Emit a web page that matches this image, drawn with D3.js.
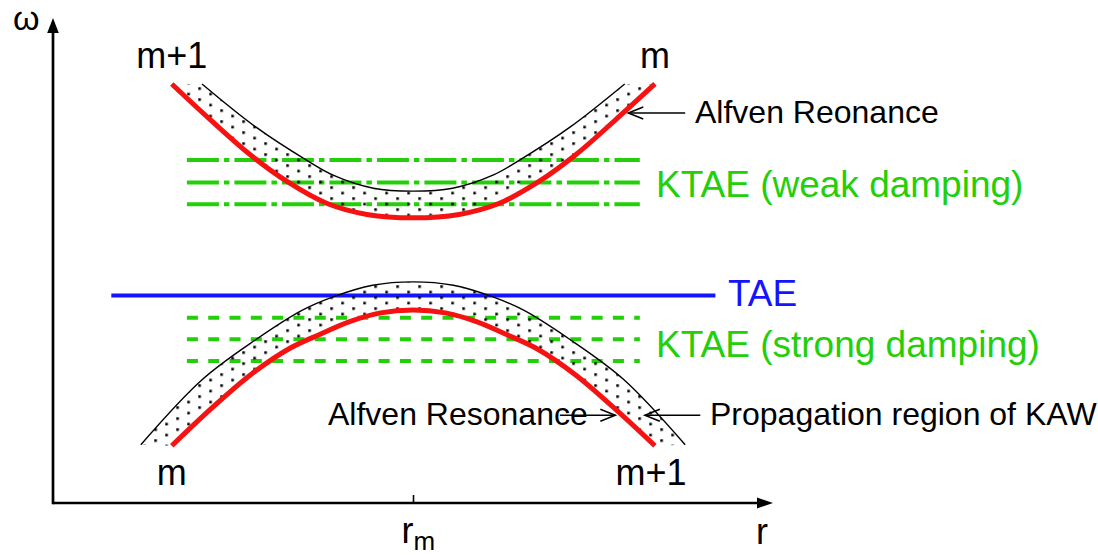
<!DOCTYPE html>
<html>
<head>
<meta charset="utf-8">
<script src="https://cdn.jsdelivr.net/npm/d3@7"></script>
<style>
  html, body { margin: 0; padding: 0; background: #fff; }
  svg { display: block; font-family: "Liberation Sans", Arial, Helvetica, sans-serif; }
</style>
</head>
<body>
<svg id="chart" width="1098" height="556"></svg>
<script>
// Upper continuum branch: Alfven resonance (red) and outer edge of the KAW region (black)
const upperResR  = [-3.35, -2.82, -2.26, -1.75, -1.20, -0.64, 0, 0.64, 1.20, 1.75, 2.26, 2.82, 3.36];
const upperResW  = [ 8.64,  7.91,  7.18,  6.63,  6.18,  5.95, 5.88, 5.95, 6.18, 6.63, 7.18, 7.91, 8.64];
const upperEdgeR = [-2.93, -2.19, -1.48, -1.11, -0.55, 0, 0.55, 1.11, 1.48, 2.19, 2.94];
const upperEdgeW = [ 8.64,  7.76,  7.07,  6.76,  6.49, 6.43, 6.49, 6.76, 7.07, 7.76, 8.64];

// Lower continuum branch
const lowerResR  = [-3.35, -2.80, -2.25, -1.71, -1.29, -0.88, -0.45, 0, 0.45, 0.88, 1.29, 1.71, 2.25, 2.80, 3.36];
const lowerResW  = [ 1.18,  1.95,  2.65,  3.19,  3.48,  3.74,  3.92, 3.98, 3.92, 3.74, 3.48, 3.19, 2.65, 1.95, 1.18];
const lowerEdgeR = [-3.78, -2.93, -2.19, -1.53, -1.11, -0.56, 0, 0.56, 1.11, 1.53, 2.19, 2.93, 3.78];
const lowerEdgeW = [ 1.20,  2.54,  3.36,  3.98,  4.25,  4.49, 4.56, 4.49, 4.25, 3.98, 3.36, 2.54, 1.20];

// Gap modes: frequency levels and radial extent
const ktaeWeakW   = [7.07, 6.61, 6.16];
const ktaeStrongW = [3.82, 3.375, 2.93];
const ktaeRange   = [-3.14, 3.15];
const taeW        = 4.28;
const taeRange    = [-4.19, 4.20];

// Mode-number labels at the ends of the resonance curves
const modeLabels = [
  { text: "m+1", branch: "upper", end: 0 },
  { text: "m",   branch: "upper", end: 1 },
  { text: "m",   branch: "lower", end: 0 },
  { text: "m+1", branch: "lower", end: 1 }
];

// Pointer arrows: [from r, to r, omega]
const arrowSpecs = [
  [3.78, 2.99, 8.04],
  [2.04, 2.81, 1.81],
  [3.99, 3.22, 1.81]
];

const svg = d3.select("#chart");
const x = d3.scaleLinear().domain([-5, 5]).range([53, 773]);
const y = d3.scaleLinear().domain([0, 10]).range([503, 18]);

const RED = "#f71212", GREEN = "#22cf08", BLUE = "#1414ff";

const zip = (R, W) => R.map((r, i) => [r, W[i]]);
const line = d3.line()
  .x(d => x(d[0])).y(d => y(d[1]))
  .curve(d3.curveCatmullRom.alpha(0.5));
const bandPath = (a, b) =>
  line(a) + line(b.slice().reverse()).replace(/^M/, "L") + "Z";

const upperRes = zip(upperResR, upperResW);
const upperEdge = zip(upperEdgeR, upperEdgeW);
const lowerRes = zip(lowerResR, lowerResW);
const lowerEdge = zip(lowerEdgeR, lowerEdgeW);

// Dot fill for the KAW propagation region
const defs = svg.append("defs");
const pat = defs.append("pattern")
  .attr("id", "dots")
  .attr("patternUnits", "userSpaceOnUse")
  .attr("x", 0.3).attr("y", -0.7)
  .attr("width", 22).attr("height", 11);
pat.append("rect").attr("x", 0).attr("y", 0).attr("width", 2.6).attr("height", 2.6).attr("fill", "#000");
pat.append("rect").attr("x", 11).attr("y", 5.5).attr("width", 2.6).attr("height", 2.6).attr("fill", "#000");

// Axes
const axisG = svg.append("g");
const xAxis = d3.axisBottom(x).tickValues([0]).tickSize(-8).tickSizeOuter(0).tickFormat(() => "");
const xg = axisG.append("g").attr("transform", `translate(0,${y(0)})`).call(xAxis);
xg.select(".domain").remove();
xg.selectAll(".tick line").attr("stroke", "#000").attr("stroke-width", 1.6);
xg.selectAll(".tick text").remove();
const rm = xg.select(".tick").append("text")
  .attr("x", -12).attr("y", 40)
  .attr("fill", "#000").attr("font-size", 36).attr("text-anchor", "start");
rm.append("tspan").text("r");
rm.append("tspan").attr("font-size", 26).attr("dy", 7).text("m");

axisG.append("line")
  .attr("x1", x(-5)).attr("x2", x(5) - 14)
  .attr("y1", y(0)).attr("y2", y(0))
  .attr("stroke", "#000").attr("stroke-width", 2.7);
axisG.append("path")
  .attr("d", `M${x(5) - 16},${y(0) - 5.5}L${x(5)},${y(0)}L${x(5) - 16},${y(0) + 5.5}Z`)
  .attr("fill", "#000");
axisG.append("line")
  .attr("x1", x(-5)).attr("x2", x(-5))
  .attr("y1", y(0) + 1.3).attr("y2", y(10) + 14)
  .attr("stroke", "#000").attr("stroke-width", 2.7);
axisG.append("path")
  .attr("d", `M${x(-5) - 5.8},${y(10) + 15}L${x(-5)},${y(10)}L${x(-5) + 5.8},${y(10) + 15}Z`)
  .attr("fill", "#000");

axisG.append("text").attr("x", 756).attr("y", 544)
  .attr("font-size", 36).attr("fill", "#000").text("r");
axisG.append("text").attr("x", 13).attr("y", 30)
  .attr("font-size", 34).attr("fill", "#000").text("ω");

// KTAE and TAE frequency lines
const modes = svg.append("g");
modes.selectAll("line.weak").data(ktaeWeakW).join("line")
  .attr("class", "weak")
  .attr("x1", x(ktaeRange[0])).attr("x2", x(ktaeRange[1]))
  .attr("y1", d => y(d)).attr("y2", d => y(d))
  .attr("stroke", GREEN).attr("stroke-width", 4)
  .attr("stroke-dasharray", "32 5 5.5 5");
modes.selectAll("line.strong").data(ktaeStrongW).join("line")
  .attr("class", "strong")
  .attr("x1", x(ktaeRange[0])).attr("x2", x(ktaeRange[1]))
  .attr("y1", d => y(d)).attr("y2", d => y(d))
  .attr("stroke", GREEN).attr("stroke-width", 4)
  .attr("stroke-dasharray", "11 10.3");
modes.append("line")
  .attr("x1", x(taeRange[0])).attr("x2", x(taeRange[1]))
  .attr("y1", y(taeW)).attr("y2", y(taeW))
  .attr("stroke", BLUE).attr("stroke-width", 4);

// Propagation regions
svg.append("path").attr("d", bandPath(upperRes, upperEdge)).attr("fill", "url(#dots)");
svg.append("path").attr("d", bandPath(lowerRes, lowerEdge)).attr("fill", "url(#dots)");

// Region edges and resonance curves
[upperEdge, lowerEdge].forEach(pts =>
  svg.append("path").attr("d", line(pts))
    .attr("fill", "none").attr("stroke", "#000").attr("stroke-width", 1.4));
[upperRes, lowerRes].forEach(pts =>
  svg.append("path").attr("d", line(pts))
    .attr("fill", "none").attr("stroke", RED).attr("stroke-width", 5));

// Pointer arrows with open heads
const arrows = svg.append("g").attr("stroke", "#000").attr("stroke-width", 1.5).attr("fill", "none");
arrowSpecs.forEach(([r0, r1, w]) => {
  const x0 = x(r0), x1 = x(r1), yy = y(w);
  const dir = Math.sign(x1 - x0);
  arrows.append("line").attr("x1", x0).attr("x2", x1).attr("y1", yy).attr("y2", yy);
  arrows.append("path")
    .attr("d", `M${x1 - dir * 15},${yy - 6}L${x1},${yy}L${x1 - dir * 15},${yy + 6}`);
});

// Mode-number labels
const ends = { upper: upperRes, lower: lowerRes };
svg.selectAll("text.mode").data(modeLabels).join("text")
  .attr("class", "mode")
  .attr("x", d => { const p = ends[d.branch]; return x(p[d.end ? p.length - 1 : 0][0]) - (d.branch === "lower" && d.end ? 4 : 0); })
  .attr("y", d => d.branch === "upper" ? 68 : 485)
  .attr("text-anchor", "middle")
  .attr("font-size", 36).attr("fill", "#000")
  .text(d => d.text);

// Annotation text
const notes = [
  { t: "KTAE (weak damping)",        x: 656, y: 197, c: GREEN, s: 37 },
  { t: "TAE",                        x: 728, y: 306, c: BLUE,  s: 37 },
  { t: "KTAE (strong damping)",      x: 656, y: 357, c: GREEN, s: 37 },
  { t: "Alfven Reonance",            x: 695, y: 123, c: "#000", s: 32 },
  { t: "Alfven Resonance",           x: 328, y: 425, c: "#000", s: 32 },
  { t: "Propagation region of KAW",  x: 710, y: 425, c: "#000", s: 32 }
];
svg.selectAll("text.note").data(notes).join("text")
  .attr("class", "note")
  .attr("x", d => d.x).attr("y", d => d.y)
  .attr("font-size", d => d.s).attr("fill", d => d.c)
  .text(d => d.t);
</script>
</body>
</html>
